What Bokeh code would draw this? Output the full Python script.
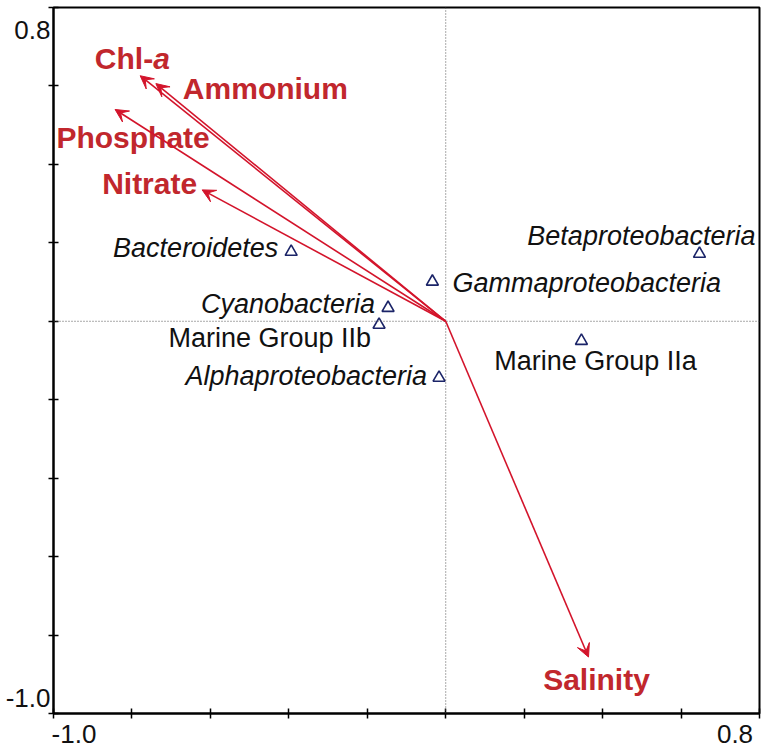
from bokeh.plotting import figure
from bokeh.models import (ColumnDataSource, Arrow, VeeHead, Span, FixedTicker, LinearAxis)
from bokeh.core.properties import value
from bokeh.embed import file_html
from bokeh.resources import INLINE

# ---- data ----
taxa = ["Bacteroidetes", "Gammaproteobacteria", "Cyanobacteria", "Marine Group IIb",
        "Alphaproteobacteria", "Betaproteobacteria", "Marine Group IIa"]
taxa_x = [-0.394, -0.034, -0.147, -0.170, -0.017, 0.647, 0.346]
taxa_y = [0.177, 0.101, 0.034, -0.009, -0.144, 0.172, -0.050]
taxa_italic = [True, True, True, False, True, True, False]

env = ["Chl-a", "Ammonium", "Phosphate", "Nitrate", "Salinity"]
env_x = [-0.779, -0.739, -0.843, -0.621, 0.364]
env_y = [0.626, 0.606, 0.540, 0.335, -0.856]

axis_min, axis_max = -1.0, 0.8
tick_values = [-1.0, -0.8, -0.6, -0.4, -0.2, 0.0, 0.2, 0.4, 0.6, 0.8]
tick_labels = ["-1.0", "0.8"]

# ---- styles / label placement (screen px) ----
FONT = "Liberation Sans"
RED_TXT = "#c1272d"
RED_ARW = "#d3142b"
NAVY = "#1b2468"
PX_PER_UNIT = 706 / (axis_max - axis_min)

taxa_align = ["right", "left", "right", "right", "right", "right", "center"]
taxa_dx = [-13, 20, -13, -8, -12, 56, 14]
taxa_dy = [-4, 1, -4, 13, -2, -18, 20]

env_align = [None, "left", "center", "right", "center"]
env_dx = [13, 27, 18, -5, 8]
env_dy = [-17, 5, 28, -6, 22]

p = figure(frame_width=706, frame_height=706,
           x_range=(axis_min, axis_max), y_range=(axis_min, axis_max),
           output_backend="svg", toolbar_location=None,
           min_border_left=53, min_border_right=6, min_border_top=7, min_border_bottom=39)
p.background_fill_color = "white"
p.border_fill_color = "white"
p.grid.visible = False
p.outline_line_color = "black"
p.outline_line_width = 2

# tick-mark axes (no labels)
for ax in (p.xaxis[0], p.yaxis[0]):
    ax.ticker = FixedTicker(ticks=tick_values)
    ax.major_label_overrides = {t: "" for t in tick_values}
    ax.minor_tick_line_color = None
    ax.major_tick_in = 5
    ax.major_tick_out = 5
    ax.major_tick_line_color = "black"
    ax.major_tick_line_width = 1.5
    ax.axis_line_color = "black"
    ax.axis_line_width = 2
    ax.major_label_text_font_size = "1px"
    ax.major_label_standoff = 0

# label-only axes for the end labels (placed inward like the reference)
lab_x_pos = [axis_min + 20.5 / PX_PER_UNIT, axis_max - 24.5 / PX_PER_UNIT]
lab_y_pos = [axis_min + 16 / PX_PER_UNIT, axis_max - 22 / PX_PER_UNIT]
xl = LinearAxis(ticker=FixedTicker(ticks=lab_x_pos),
                major_label_overrides={lab_x_pos[0]: tick_labels[0], lab_x_pos[1]: tick_labels[1]})
yl = LinearAxis(ticker=FixedTicker(ticks=lab_y_pos),
                major_label_overrides={lab_y_pos[0]: tick_labels[0], lab_y_pos[1]: tick_labels[1]})
for ax in (xl, yl):
    ax.axis_line_color = None
    ax.major_tick_line_color = None
    ax.minor_tick_line_color = None
    ax.major_tick_in = 0
    ax.major_tick_out = 0
    ax.major_label_text_font = FONT
    ax.major_label_text_font_size = "26px"
    ax.major_label_text_color = "#111111"
xl.major_label_standoff = 6
yl.major_label_standoff = -2
p.add_layout(xl, "below")
p.add_layout(yl, "left")

# zero lines
p.add_layout(Span(location=0, dimension="height", line_color="#555555",
                  line_width=1, line_dash="1 2"))
p.add_layout(Span(location=0, dimension="width", line_color="#555555",
                  line_width=1, line_dash="1 2"))

# env arrows
asrc = ColumnDataSource(dict(x0=[0.0] * len(env), y0=[0.0] * len(env), x1=env_x, y1=env_y))
p.add_layout(Arrow(end=VeeHead(size=13, fill_color=RED_ARW, line_color=RED_ARW, line_width=1),
                   x_start="x0", y_start="y0", x_end="x1", y_end="y1", source=asrc,
                   line_color=RED_ARW, line_width=1.6))

# env labels
rows = [i for i in range(len(env)) if env_align[i] is not None]
esrc = ColumnDataSource(dict(x=[env_x[i] for i in rows], y=[env_y[i] for i in rows],
                             t=[env[i] for i in rows], a=[env_align[i] for i in rows],
                             dx=[env_dx[i] for i in rows], dy=[env_dy[i] for i in rows]))
p.text(x="x", y="y", text="t", source=esrc, text_align="a", text_baseline="middle",
       x_offset="dx", y_offset="dy", text_font=value(FONT), text_font_size="30px",
       text_font_style="bold", text_color=RED_TXT)
# Chl-a with italic a
p.text(x=[env_x[0]], y=[env_y[0]], text=[env[0][:-1]], text_align="right", text_baseline="middle",
       x_offset=env_dx[0], y_offset=env_dy[0], text_font=value(FONT), text_font_size="30px",
       text_font_style="bold", text_color=RED_TXT)
p.text(x=[env_x[0]], y=[env_y[0]], text=[env[0][-1:]], text_align="left", text_baseline="middle",
       x_offset=env_dx[0], y_offset=env_dy[0], text_font=value(FONT), text_font_size="30px",
       text_font_style="bold italic", text_color=RED_TXT)

# taxa points
p.scatter(taxa_x, taxa_y, marker="triangle", size=12, fill_color=None,
          line_color=NAVY, line_width=1.6)

# taxa labels
tsrc = ColumnDataSource(dict(x=taxa_x, y=taxa_y, t=taxa, a=taxa_align, dx=taxa_dx, dy=taxa_dy,
                             s=["italic" if it else "normal" for it in taxa_italic]))
p.text(x="x", y="y", text="t", source=tsrc, text_align="a", text_baseline="middle",
       x_offset="dx", y_offset="dy", text_font=value(FONT), text_font_size="27px",
       text_font_style="s", text_color="#111111")

open("out.html", "w").write(file_html(p, INLINE))
